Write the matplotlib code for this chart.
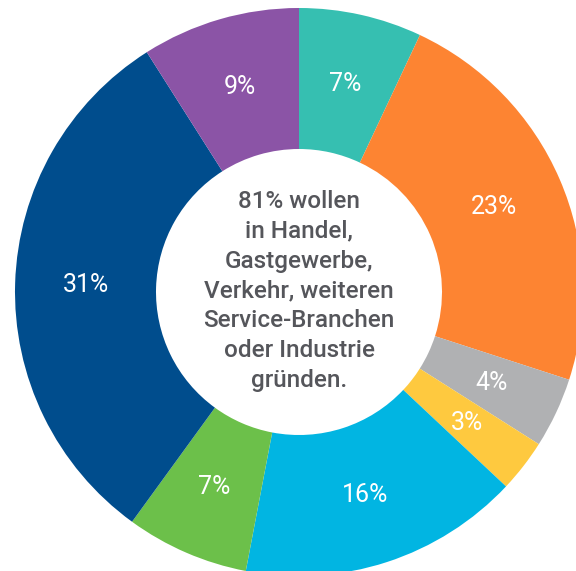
import matplotlib
matplotlib.use("Agg")
import matplotlib.pyplot as plt

# Data (clockwise from top)
labels = ["7%", "23%", "4%", "3%", "16%", "7%", "31%", "9%"]
values = [7, 23, 4, 3, 16, 7, 31, 9]
colors = ["#36bfb1", "#fd8432", "#b0b1b3", "#fec93f", "#01b5e2", "#6cc04a", "#004d8d", "#8b54a6"]
center_text = "81% wollen\nin Handel,\nGastgewerbe,\nVerkehr, weiteren\nService-Branchen\noder Industrie\ngründen."

W, H = 576, 571
cx, cy = 299, 292
R = 284
r_in = 143

fig = plt.figure(figsize=(W / 100, H / 100), dpi=100)
ax = fig.add_axes([0, 0, 1, 1])

wedges, texts = ax.pie(
    values, colors=colors, radius=R, startangle=90, counterclock=False,
    labels=labels, labeldistance=0.75,
    wedgeprops=dict(width=R - r_in, linewidth=0),
    textprops=dict(color="white", fontsize=18, family=["Roboto", "DejaVu Sans"]),
)
for t in texts:
    t.set_ha("center")
    t.set_va("center")

ax.text(0, 1, center_text, ha="center", va="center", color="#55565b",
        fontsize=17.5, fontweight="medium", family=["Roboto", "DejaVu Sans"],
        linespacing=1.38)

ax.set_xlim(-cx, W - cx)
ax.set_ylim(-(H - cy), cy)
ax.set_aspect("equal")
ax.axis("off")

fig.savefig("out.png", dpi=100)
